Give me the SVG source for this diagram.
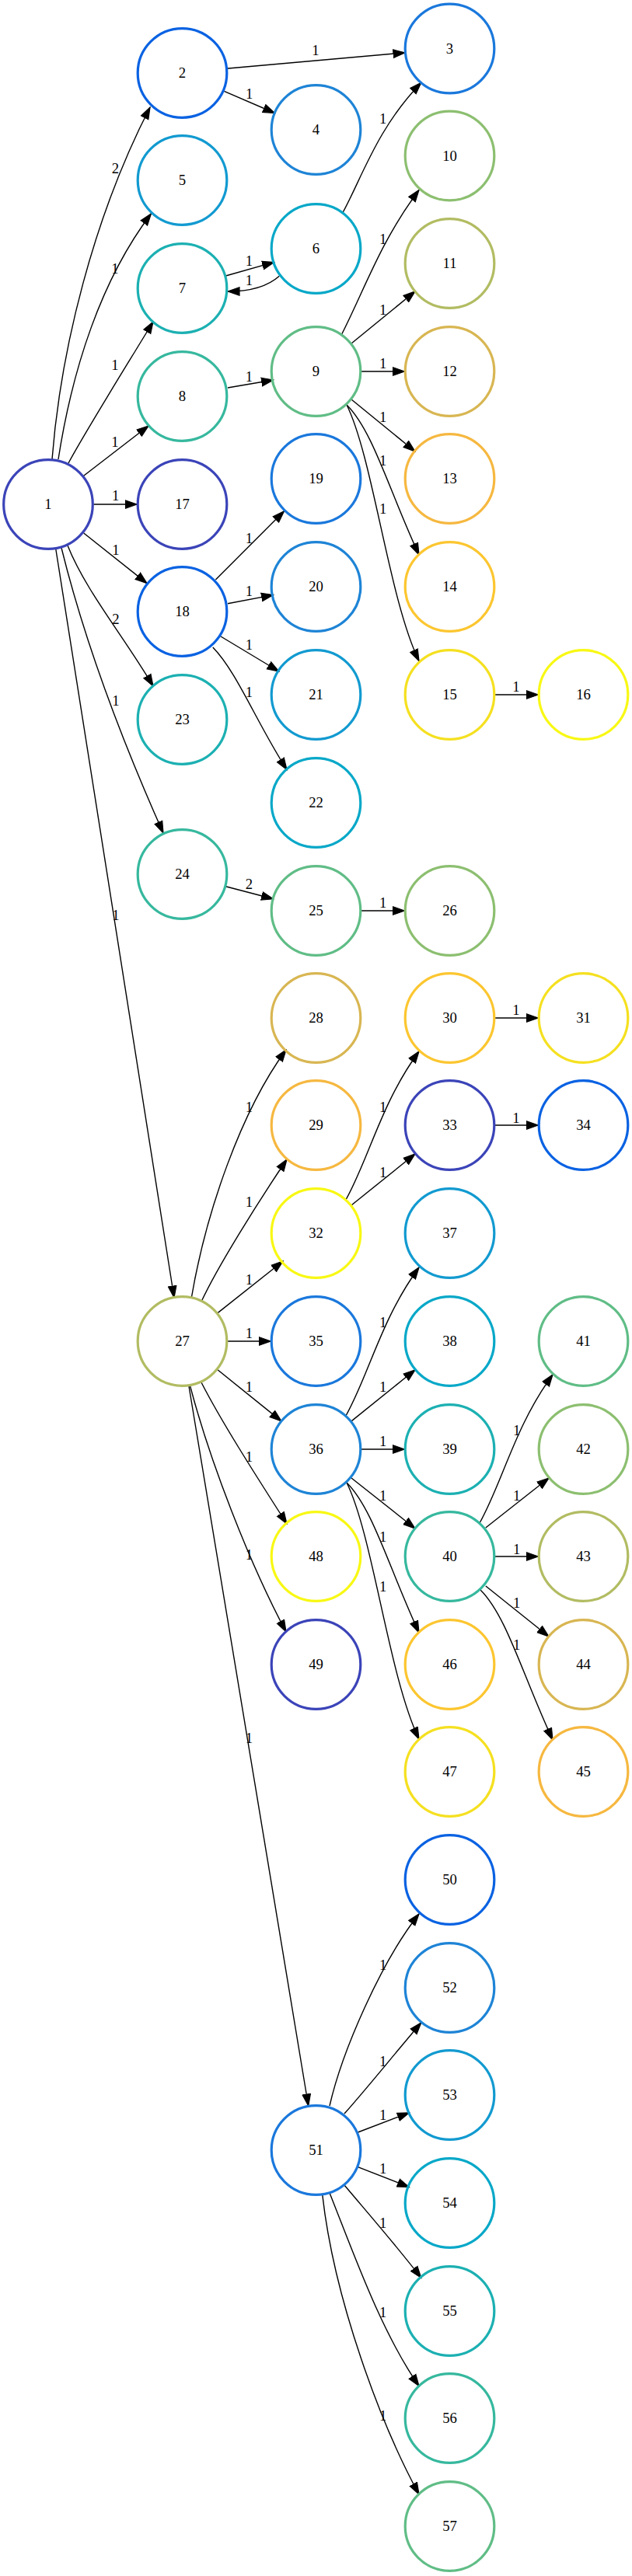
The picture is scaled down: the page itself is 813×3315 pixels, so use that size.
<svg xmlns="http://www.w3.org/2000/svg" width="813" height="3315" viewBox="0 0 813 3315">
<style>
.n circle{fill:none;stroke-width:3.2}
.n text{font-family:"Liberation Serif","Times New Roman",serif;font-size:18.7px;text-anchor:middle;fill:#000}
.e path{fill:none;stroke:#000;stroke-width:1.4;marker-end:url(#ah)}
.e text{font-family:"Liberation Serif","Times New Roman",serif;font-size:18.7px;text-anchor:middle;fill:#000}
.c0{stroke:#3b44b8}.c1{stroke:#0a62e2}.c2{stroke:#1a78dc}.c3{stroke:#1e84d6}
.c4{stroke:#129ad0}.c5{stroke:#08a8c8}.c6{stroke:#1cb0b2}.c7{stroke:#36b89e}
.c8{stroke:#60bd86}.c9{stroke:#8cbf70}.c10{stroke:#b2bc62}.c11{stroke:#d8b652}
.c12{stroke:#f6b840}.c13{stroke:#fcc630}.c14{stroke:#f5e020}.c15{stroke:#f8f814}
</style>
<defs>
<marker id="ah" markerUnits="userSpaceOnUse" markerWidth="17" markerHeight="13" refX="15.5" refY="6.5" orient="auto" viewBox="0 0 17 13">
<path d="M0.5,1.25 L15.5,6.5 L0.5,11.75 Z" fill="#000" stroke="#000" stroke-width="1.2"/>
</marker>
</defs>
<rect width="813" height="3315" fill="#fff"/>
<g id="edges" class="e">
<path d="M67,591 C78,450 120,280 193,138"/><text x="148.5" y="223">2</text>
<path d="M75,591 C93,475 130,360 194.4,275"/><text x="147.8" y="352">1</text>
<path d="M88,596 C110,555 160,475 197,414"/><text x="147.8" y="475.5">1</text>
<path d="M107.7,612.3 L191,548"/><text x="147.8" y="575">1</text>
<path d="M120.5,649 L176,649"/><text x="148.7" y="644">1</text>
<path d="M107.7,686 L189,750.6"/><text x="148.8" y="714">1</text>
<path d="M87,702 C110,760 160,820 197,883"/><text x="148.8" y="803">2</text>
<path d="M79,705 C110,830 160,960 210,1072"/><text x="148.8" y="908">1</text>
<path d="M71.7,706 L224,1670"/><text x="148.8" y="1183.5">1</text>
<path d="M291,88.3 L521,67.8"/><text x="406" y="70.7">1</text>
<path d="M288.3,117.3 L353.5,145.5"/><text x="320.7" y="127.3">1</text>
<path d="M440.7,274 C465,230 485,165 541.8,106.4"/><text x="492.6" y="159">1</text>
<path d="M290.4,355 L352.6,337.4"/><text x="320.4" y="342">1</text>
<path d="M359.3,355.2 C345,368 325,375 293,375"/><text x="320.4" y="366.6">1</text>
<path d="M293,499 L351.5,489"/><text x="320.4" y="491">1</text>
<path d="M439.7,430 C470,370 490,310 539,244.5"/><text x="492.6" y="314">1</text>
<path d="M452,442 L534,375"/><text x="492.6" y="404.5">1</text>
<path d="M465,478 L520.5,478"/><text x="492.6" y="474">1</text>
<path d="M452,514 L534,581"/><text x="492.6" y="543">1</text>
<path d="M446,521 C480,555 500,630 539,714"/><text x="492.6" y="599">1</text>
<path d="M446,521 C480,590 500,770 539,850.6"/><text x="492.6" y="660.7">1</text>
<path d="M637,894 L692.5,894"/><text x="664" y="890">1</text>
<path d="M277.4,746 L365.5,657.8"/><text x="320.4" y="699">1</text>
<path d="M293,776.7 L351.5,765.6"/><text x="320.4" y="767">1</text>
<path d="M284,819 L358.8,864"/><text x="320.4" y="836">1</text>
<path d="M273.8,833 C305,865 330,930 369,990.5"/><text x="320.4" y="897">1</text>
<path d="M290.4,1140.7 L351.5,1156.8"/><text x="320.4" y="1144">2</text>
<path d="M465,1172 L520.5,1172"/><text x="492.6" y="1167.5">1</text>
<path d="M246.3,1670 C265,1560 310,1430 368,1351"/><text x="320.4" y="1431">1</text>
<path d="M259,1675 C280,1630 330,1550 369,1492"/><text x="320.4" y="1553">1</text>
<path d="M280,1689.6 L364,1623"/><text x="320.4" y="1653">1</text>
<path d="M293,1726 L348.5,1726"/><text x="320.4" y="1722">1</text>
<path d="M280,1762.8 L362,1828.9"/><text x="320.4" y="1791">1</text>
<path d="M259,1779 C285,1830 330,1900 369,1961"/><text x="320.4" y="1880.6">1</text>
<path d="M244.7,1784 C270,1880 320,2010 368,2100"/><text x="320.4" y="2007">1</text>
<path d="M243,1784 L396.7,2710"/><text x="320.4" y="2243">1</text>
<path d="M637,1310 L692.5,1310"/><text x="664" y="1306">1</text>
<path d="M444.9,1544 C475,1490 490,1420 539,1353"/><text x="492.6" y="1431">1</text>
<path d="M452,1551 L534,1485"/><text x="492.6" y="1515">1</text>
<path d="M637,1448 L692.5,1448"/><text x="664" y="1444.5">1</text>
<path d="M444.9,1822 C475,1768 490,1698 539,1631"/><text x="492.6" y="1708">1</text>
<path d="M452,1828.9 L534,1762.8"/><text x="492.6" y="1791">1</text>
<path d="M465,1865 L520.5,1865"/><text x="492.6" y="1861">1</text>
<path d="M452,1902 L534,1967"/><text x="492.6" y="1930.6">1</text>
<path d="M446,1908 C480,1942 500,2017 539,2101"/><text x="492.6" y="1984">1</text>
<path d="M446,1908 C480,1977 500,2157 539,2238"/><text x="492.6" y="2047.7">1</text>
<path d="M617,1960 C647,1906 662,1836 711,1769"/><text x="664.7" y="1846.7">1</text>
<path d="M624.8,1966 L706,1902"/><text x="664.7" y="1930.6">1</text>
<path d="M637,2003 L692.5,2003"/><text x="664.7" y="1999.5">1</text>
<path d="M624.8,2041 L706,2106"/><text x="664.7" y="2068.7">1</text>
<path d="M618,2046 C652,2080 672,2155 711,2239"/><text x="664.7" y="2123.4">1</text>
<path d="M424,2710 C440,2640 490,2525 539,2463"/><text x="492.6" y="2535">1</text>
<path d="M443,2720 C470,2690 510,2640 541.8,2603"/><text x="492.6" y="2659">1</text>
<path d="M460.4,2744 L526.3,2718.8"/><text x="492.6" y="2727.5">1</text>
<path d="M460.4,2788.6 L526.3,2814.5"/><text x="492.6" y="2797">1</text>
<path d="M443,2812 C475,2850 510,2890 541.8,2931.4"/><text x="492.6" y="2866.7">1</text>
<path d="M424,2822 C455,2900 490,3000 539,3070.6"/><text x="492.6" y="2981.6">1</text>
<path d="M414.8,2824.7 C430,2960 490,3120 539,3210"/><text x="492.6" y="3115">1</text>
</g>
<g id="node1" class="n"><circle class="c0" cx="62" cy="649" r="57.3"/><text x="62" y="655">1</text></g>
<g id="node2" class="n"><circle class="c1" cx="234.5" cy="94" r="57.3"/><text x="234.5" y="100">2</text></g>
<g id="node3" class="n"><circle class="c2" cx="578.5" cy="62.5" r="57.3"/><text x="578.5" y="68.5">3</text></g>
<g id="node4" class="n"><circle class="c3" cx="406.5" cy="167" r="57.3"/><text x="406.5" y="173">4</text></g>
<g id="node5" class="n"><circle class="c4" cx="234.5" cy="232" r="57.3"/><text x="234.5" y="238">5</text></g>
<g id="node6" class="n"><circle class="c5" cx="406.5" cy="320" r="57.3"/><text x="406.5" y="326">6</text></g>
<g id="node7" class="n"><circle class="c6" cx="234.5" cy="371" r="57.3"/><text x="234.5" y="377">7</text></g>
<g id="node8" class="n"><circle class="c7" cx="234.5" cy="510" r="57.3"/><text x="234.5" y="516">8</text></g>
<g id="node9" class="n"><circle class="c8" cx="406.5" cy="478" r="57.3"/><text x="406.5" y="484">9</text></g>
<g id="node10" class="n"><circle class="c9" cx="578.5" cy="200.5" r="57.3"/><text x="578.5" y="206.5">10</text></g>
<g id="node11" class="n"><circle class="c10" cx="578.5" cy="339" r="57.3"/><text x="578.5" y="345">11</text></g>
<g id="node12" class="n"><circle class="c11" cx="578.5" cy="478" r="57.3"/><text x="578.5" y="484">12</text></g>
<g id="node13" class="n"><circle class="c12" cx="578.5" cy="616" r="57.3"/><text x="578.5" y="622">13</text></g>
<g id="node14" class="n"><circle class="c13" cx="578.5" cy="755" r="57.3"/><text x="578.5" y="761">14</text></g>
<g id="node15" class="n"><circle class="c14" cx="578.5" cy="894" r="57.3"/><text x="578.5" y="900">15</text></g>
<g id="node16" class="n"><circle class="c15" cx="750.5" cy="894" r="57.3"/><text x="750.5" y="900">16</text></g>
<g id="node17" class="n"><circle class="c0" cx="234.5" cy="649" r="57.3"/><text x="234.5" y="655">17</text></g>
<g id="node18" class="n"><circle class="c1" cx="234.5" cy="787" r="57.3"/><text x="234.5" y="793">18</text></g>
<g id="node19" class="n"><circle class="c2" cx="406.5" cy="616" r="57.3"/><text x="406.5" y="622">19</text></g>
<g id="node20" class="n"><circle class="c3" cx="406.5" cy="755" r="57.3"/><text x="406.5" y="761">20</text></g>
<g id="node21" class="n"><circle class="c4" cx="406.5" cy="894" r="57.3"/><text x="406.5" y="900">21</text></g>
<g id="node22" class="n"><circle class="c5" cx="406.5" cy="1033" r="57.3"/><text x="406.5" y="1039">22</text></g>
<g id="node23" class="n"><circle class="c6" cx="234.5" cy="926" r="57.3"/><text x="234.5" y="932">23</text></g>
<g id="node24" class="n"><circle class="c7" cx="234.5" cy="1125" r="57.3"/><text x="234.5" y="1131">24</text></g>
<g id="node25" class="n"><circle class="c8" cx="406.5" cy="1172" r="57.3"/><text x="406.5" y="1178">25</text></g>
<g id="node26" class="n"><circle class="c9" cx="578.5" cy="1172" r="57.3"/><text x="578.5" y="1178">26</text></g>
<g id="node27" class="n"><circle class="c10" cx="234.5" cy="1726" r="57.3"/><text x="234.5" y="1732">27</text></g>
<g id="node28" class="n"><circle class="c11" cx="406.5" cy="1310" r="57.3"/><text x="406.5" y="1316">28</text></g>
<g id="node29" class="n"><circle class="c12" cx="406.5" cy="1448" r="57.3"/><text x="406.5" y="1454">29</text></g>
<g id="node30" class="n"><circle class="c13" cx="578.5" cy="1310" r="57.3"/><text x="578.5" y="1316">30</text></g>
<g id="node31" class="n"><circle class="c14" cx="750.5" cy="1310" r="57.3"/><text x="750.5" y="1316">31</text></g>
<g id="node32" class="n"><circle class="c15" cx="406.5" cy="1587" r="57.3"/><text x="406.5" y="1593">32</text></g>
<g id="node33" class="n"><circle class="c0" cx="578.5" cy="1448" r="57.3"/><text x="578.5" y="1454">33</text></g>
<g id="node34" class="n"><circle class="c1" cx="750.5" cy="1448" r="57.3"/><text x="750.5" y="1454">34</text></g>
<g id="node35" class="n"><circle class="c2" cx="406.5" cy="1726" r="57.3"/><text x="406.5" y="1732">35</text></g>
<g id="node36" class="n"><circle class="c3" cx="406.5" cy="1865" r="57.3"/><text x="406.5" y="1871">36</text></g>
<g id="node37" class="n"><circle class="c4" cx="578.5" cy="1587" r="57.3"/><text x="578.5" y="1593">37</text></g>
<g id="node38" class="n"><circle class="c5" cx="578.5" cy="1726" r="57.3"/><text x="578.5" y="1732">38</text></g>
<g id="node39" class="n"><circle class="c6" cx="578.5" cy="1865" r="57.3"/><text x="578.5" y="1871">39</text></g>
<g id="node40" class="n"><circle class="c7" cx="578.5" cy="2003" r="57.3"/><text x="578.5" y="2009">40</text></g>
<g id="node41" class="n"><circle class="c8" cx="750.5" cy="1726" r="57.3"/><text x="750.5" y="1732">41</text></g>
<g id="node42" class="n"><circle class="c9" cx="750.5" cy="1865" r="57.3"/><text x="750.5" y="1871">42</text></g>
<g id="node43" class="n"><circle class="c10" cx="750.5" cy="2003" r="57.3"/><text x="750.5" y="2009">43</text></g>
<g id="node44" class="n"><circle class="c11" cx="750.5" cy="2142" r="57.3"/><text x="750.5" y="2148">44</text></g>
<g id="node45" class="n"><circle class="c12" cx="750.5" cy="2280" r="57.3"/><text x="750.5" y="2286">45</text></g>
<g id="node46" class="n"><circle class="c13" cx="578.5" cy="2142" r="57.3"/><text x="578.5" y="2148">46</text></g>
<g id="node47" class="n"><circle class="c14" cx="578.5" cy="2280" r="57.3"/><text x="578.5" y="2286">47</text></g>
<g id="node48" class="n"><circle class="c15" cx="406.5" cy="2003" r="57.3"/><text x="406.5" y="2009">48</text></g>
<g id="node49" class="n"><circle class="c0" cx="406.5" cy="2142" r="57.3"/><text x="406.5" y="2148">49</text></g>
<g id="node50" class="n"><circle class="c1" cx="578.5" cy="2419" r="57.3"/><text x="578.5" y="2425">50</text></g>
<g id="node51" class="n"><circle class="c2" cx="406.5" cy="2767" r="57.3"/><text x="406.5" y="2773">51</text></g>
<g id="node52" class="n"><circle class="c3" cx="578.5" cy="2558" r="57.3"/><text x="578.5" y="2564">52</text></g>
<g id="node53" class="n"><circle class="c4" cx="578.5" cy="2696" r="57.3"/><text x="578.5" y="2702">53</text></g>
<g id="node54" class="n"><circle class="c5" cx="578.5" cy="2835" r="57.3"/><text x="578.5" y="2841">54</text></g>
<g id="node55" class="n"><circle class="c6" cx="578.5" cy="2974" r="57.3"/><text x="578.5" y="2980">55</text></g>
<g id="node56" class="n"><circle class="c7" cx="578.5" cy="3112" r="57.3"/><text x="578.5" y="3118">56</text></g>
<g id="node57" class="n"><circle class="c8" cx="578.5" cy="3251" r="57.3"/><text x="578.5" y="3257">57</text></g>
</svg>
